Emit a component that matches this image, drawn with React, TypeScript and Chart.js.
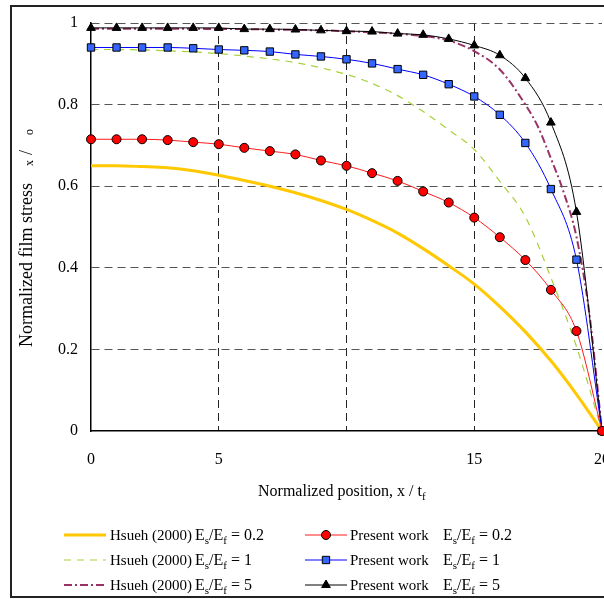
import React, { useEffect, useRef } from 'react';
import { Chart, registerables } from 'chart.js';

Chart.register(...registerables);

// ---------- data ----------
const positions = [0, 1, 2, 3, 4, 5, 6, 7, 8, 9, 10, 11, 12, 13, 14, 15, 16, 17, 18, 19, 20];

const presentE02 = [0.715, 0.715, 0.715, 0.713, 0.708, 0.703, 0.694, 0.686, 0.678, 0.663, 0.650, 0.632, 0.613, 0.587, 0.560, 0.523, 0.475, 0.419, 0.346, 0.245, 0];
const presentE1 = [0.940, 0.940, 0.940, 0.940, 0.938, 0.935, 0.933, 0.930, 0.923, 0.918, 0.911, 0.901, 0.887, 0.873, 0.850, 0.820, 0.775, 0.706, 0.593, 0.420, 0];
const presentE5 = [0.988, 0.988, 0.988, 0.988, 0.988, 0.988, 0.985, 0.985, 0.984, 0.982, 0.980, 0.979, 0.974, 0.971, 0.961, 0.945, 0.921, 0.865, 0.756, 0.537, 0];

const hsuehE02 = [0.650, 0.650, 0.648, 0.645, 0.638, 0.627, 0.614, 0.600, 0.584, 0.565, 0.543, 0.516, 0.485, 0.447, 0.405, 0.360, 0.305, 0.243, 0.172, 0.090, 0];
const hsuehE1 = [0.935, 0.935, 0.934, 0.932, 0.929, 0.925, 0.919, 0.912, 0.903, 0.890, 0.874, 0.852, 0.822, 0.783, 0.738, 0.690, 0.612, 0.525, 0.376, 0.207, 0];
const hsuehE5Positions = [0, 1, 2, 3, 4, 5, 6, 7, 8, 9, 10, 11, 12, 13, 14, 15, 16, 17, 17.5, 18, 18.5, 19, 19.5, 20];
const hsuehE5 = [0.986, 0.986, 0.986, 0.986, 0.986, 0.985, 0.985, 0.984, 0.983, 0.982, 0.980, 0.977, 0.974, 0.968, 0.957, 0.931, 0.886, 0.800, 0.745, 0.668, 0.585, 0.476, 0.290, 0];

const xTickValues = [0, 5, 10, 15, 20];
const xTickLabels = ['0', '5', '', '15', '20'];
const yTickValues = [0, 0.2, 0.4, 0.6, 0.8, 1];
const yTickLabels = ['0', '0.2', '0.4', '0.6', '0.8', '1'];

const legendSources = ['Hsueh (2000)', 'Present work'];
const legendRatios = ['0.2', '1', '5'];

const xTitle = 'Normalized position, x / t';
const xTitleSub = 'f';
const yTitle = 'Normalized film stress';

// ---------- helpers ----------
const FONT = '"Liberation Serif", "Times New Roman", serif';

const toPoints = (xs: number[], ys: number[]) => xs.map((x, i) => ({ x, y: ys[i] }));

function drawRich(ctx: CanvasRenderingContext2D, parts: [string, boolean][], x: number, y: number, size: number) {
  let cx = x;
  for (const [t, sub] of parts) {
    const s = sub ? Math.round(size * 0.68) : size;
    ctx.font = `${s}px ${FONT}`;
    ctx.fillText(t, cx, sub ? y + size * 0.22 : y);
    cx += ctx.measureText(t).width;
  }
  return cx;
}

function drawMarker(ctx: CanvasRenderingContext2D, style: string, x: number, y: number, r: number, fill: string) {
  ctx.save();
  ctx.setLineDash([]);
  ctx.fillStyle = fill;
  ctx.strokeStyle = '#000';
  ctx.lineWidth = 1;
  ctx.beginPath();
  if (style === 'circle') {
    ctx.arc(x, y, r, 0, Math.PI * 2);
  } else if (style === 'rect') {
    const s = r * Math.SQRT1_2;
    ctx.rect(x - s, y - s, 2 * s, 2 * s);
  } else {
    ctx.moveTo(x, y - r);
    ctx.lineTo(x + r * 0.866, y + r * 0.5);
    ctx.lineTo(x - r * 0.866, y + r * 0.5);
    ctx.closePath();
  }
  ctx.fill();
  ctx.stroke();
  ctx.restore();
}

const decorPlugin = {
  id: 'decor',
  beforeDraw(chart: any) {
    const ctx = chart.ctx as CanvasRenderingContext2D;
    ctx.save();
    ctx.fillStyle = '#fff';
    ctx.fillRect(0, 0, chart.width, chart.height);
    ctx.strokeStyle = '#222';
    ctx.lineWidth = 2;
    ctx.strokeRect(11, 6, 800, 591);
    ctx.restore();
  },
  afterDraw(chart: any) {
    const ctx = chart.ctx as CanvasRenderingContext2D;
    const ds = chart.data.datasets;
    ctx.save();
    ctx.fillStyle = '#000';
    ctx.textBaseline = 'alphabetic';
    ctx.textAlign = 'left';

    // y title (rotated)
    ctx.save();
    ctx.translate(32, 347);
    ctx.rotate(-Math.PI / 2);
    ctx.font = `18px ${FONT}`;
    ctx.fillText(yTitle, 0, 0);
    ctx.font = `12px ${FONT}`;
    ctx.fillText('x', 181, 1);
    ctx.font = `18px ${FONT}`;
    ctx.fillText('/', 192, 0);
    ctx.font = `12px ${FONT}`;
    ctx.fillText('o', 212, 1);
    ctx.restore();

    // x title
    drawRich(ctx, [[xTitle, false], [xTitleSub, true]], 258, 496, 16);

    // legend
    const rowsY = [535, 560, 585];
    const cols = [
      { lineX1: 64, lineX2: 106, textX: 110, ratioX: 195 },
      { lineX1: 305, lineX2: 347, textX: 350, ratioX: 443 },
    ];
    // dataset index: present works 0..2, hsueh 3..5
    const map = [
      [3, 0],
      [4, 1],
      [5, 2],
    ];
    for (let r = 0; r < 3; r++) {
      for (let c = 0; c < 2; c++) {
        const d = ds[map[r][c]];
        const y = rowsY[r];
        const col = cols[c];
        ctx.save();
        ctx.strokeStyle = d.borderColor;
        ctx.lineWidth = d.borderWidth;
        ctx.setLineDash(d.borderDash || []);
        ctx.beginPath();
        ctx.moveTo(col.lineX1, y);
        ctx.lineTo(col.lineX2, y);
        ctx.stroke();
        ctx.restore();
        if (d.pointRadius > 0) {
          drawMarker(ctx, d.pointStyle, (col.lineX1 + col.lineX2) / 2, y, d.pointRadius, d.pointBackgroundColor);
        }
        ctx.fillStyle = '#000';
        ctx.font = `15px ${FONT}`;
        ctx.fillText(legendSources[c], col.textX, y + 5);
        drawRich(
          ctx,
          [
            ['E', false],
            ['s', true],
            ['/E', false],
            ['f', true],
            [' = ' + legendRatios[r], false],
          ],
          col.ratioX,
          y + 5,
          16
        );
      }
    }
    ctx.restore();
  },
};

export default function App() {
  const canvasRef = useRef<HTMLCanvasElement | null>(null);

  useEffect(() => {
    const canvas = canvasRef.current;
    if (!canvas) return;
    Chart.defaults.font.family = FONT;

    const gridColor = (axisMax: number, col: string) => (c: any) => {
      const v = c.tick ? c.tick.value : null;
      if (v === 0 || v === axisMax) return 'rgba(0,0,0,0)';
      return col;
    };

    const chart = new Chart(canvas, {
      type: 'line',
      data: {
        datasets: [
          {
            label: 'Present work Es/Ef = 0.2',
            data: toPoints(positions, presentE02),
            borderColor: '#FF1a1a',
            borderWidth: 1,
            pointStyle: 'circle',
            pointRadius: 4.5,
            pointBackgroundColor: '#FF0000',
            pointBorderColor: '#000',
            pointBorderWidth: 1,
            cubicInterpolationMode: 'monotone',
            clip: false,
          },
          {
            label: 'Present work Es/Ef = 1',
            data: toPoints(positions, presentE1),
            borderColor: '#0000FF',
            borderWidth: 1,
            pointStyle: 'rect',
            pointRadius: 5.2,
            pointBackgroundColor: '#3366FF',
            pointBorderColor: '#000',
            pointBorderWidth: 1,
            cubicInterpolationMode: 'monotone',
            clip: false,
          },
          {
            label: 'Present work Es/Ef = 5',
            data: toPoints(positions, presentE5),
            borderColor: '#000000',
            borderWidth: 1,
            pointStyle: 'triangle',
            pointRadius: 5,
            pointBackgroundColor: '#000000',
            pointBorderColor: '#000',
            pointBorderWidth: 1,
            cubicInterpolationMode: 'monotone',
            clip: false,
          },
          {
            label: 'Hsueh (2000) Es/Ef = 0.2',
            data: toPoints(positions, hsuehE02),
            borderColor: '#FFC800',
            borderWidth: 3,
            pointRadius: 0,
            cubicInterpolationMode: 'monotone',
            clip: false,
          },
          {
            label: 'Hsueh (2000) Es/Ef = 1',
            data: toPoints(positions, hsuehE1),
            borderColor: '#A6D13A',
            borderWidth: 1.2,
            borderDash: [7, 6],
            pointRadius: 0,
            cubicInterpolationMode: 'monotone',
            clip: false,
          },
          {
            label: 'Hsueh (2000) Es/Ef = 5',
            data: toPoints(hsuehE5Positions, hsuehE5),
            borderColor: '#993366',
            borderWidth: 2,
            borderDash: [8, 3, 2, 3],
            pointRadius: 0,
            cubicInterpolationMode: 'monotone',
            clip: false,
          },
        ] as any,
      },
      options: {
        animation: false,
        responsive: false,
        devicePixelRatio: 1,
        layout: { padding: { left: 0, right: 98, top: 23, bottom: 0 } },
        plugins: {
          legend: { display: false },
          tooltip: { enabled: false },
        },
        events: [],
        scales: {
          x: {
            type: 'linear',
            min: 0,
            max: 20,
            afterBuildTicks: (s: any) => {
              s.ticks = xTickValues.map((v) => ({ value: v }));
            },
            afterFit: (s: any) => {
              s.height = 168;
            },
            ticks: {
              autoSkip: false,
              maxRotation: 0,
              padding: 19,
              color: '#000',
              font: { family: FONT, size: 16 },
              callback: (v: any) => {
                const i = xTickValues.indexOf(Number(v));
                return i >= 0 ? xTickLabels[i] : '';
              },
            },
            grid: {
              color: gridColor(20, '#222'),
              lineWidth: 1,
              drawTicks: false,
            },
            border: { display: true, color: '#000', width: 1.5, dash: [8, 5] },
          },
          y: {
            type: 'linear',
            min: 0,
            max: 1,
            afterBuildTicks: (s: any) => {
              s.ticks = yTickValues.map((v) => ({ value: v }));
            },
            afterFit: (s: any) => {
              s.width = 91;
            },
            ticks: {
              padding: 13,
              color: '#000',
              font: { family: FONT, size: 16 },
              callback: (v: any) => {
                const r = Math.round(Number(v) * 10) / 10;
                const i = yTickValues.findIndex((t) => Math.abs(t - r) < 1e-6);
                return i >= 0 ? yTickLabels[i] : '';
              },
            },
            grid: {
              color: (c: any) => {
                const v = c.tick ? c.tick.value : null;
                if (v === 0) return 'rgba(0,0,0,0)';
                return '#555';
              },
              lineWidth: 1,
              drawTicks: false,
            },
            border: { display: true, color: '#000', width: 1.5, dash: [8, 5] },
          },
        },
      } as any,
      plugins: [decorPlugin],
    });

    return () => {
      chart.destroy();
    };
  }, []);

  return (
    <div
      style={{
        position: 'absolute',
        left: 0,
        top: 0,
        width: 604,
        height: 599,
        overflow: 'hidden',
        background: '#fff',
      }}
    >
      <canvas ref={canvasRef} width={700} height={599} style={{ display: 'block' }} />
    </div>
  );
}
